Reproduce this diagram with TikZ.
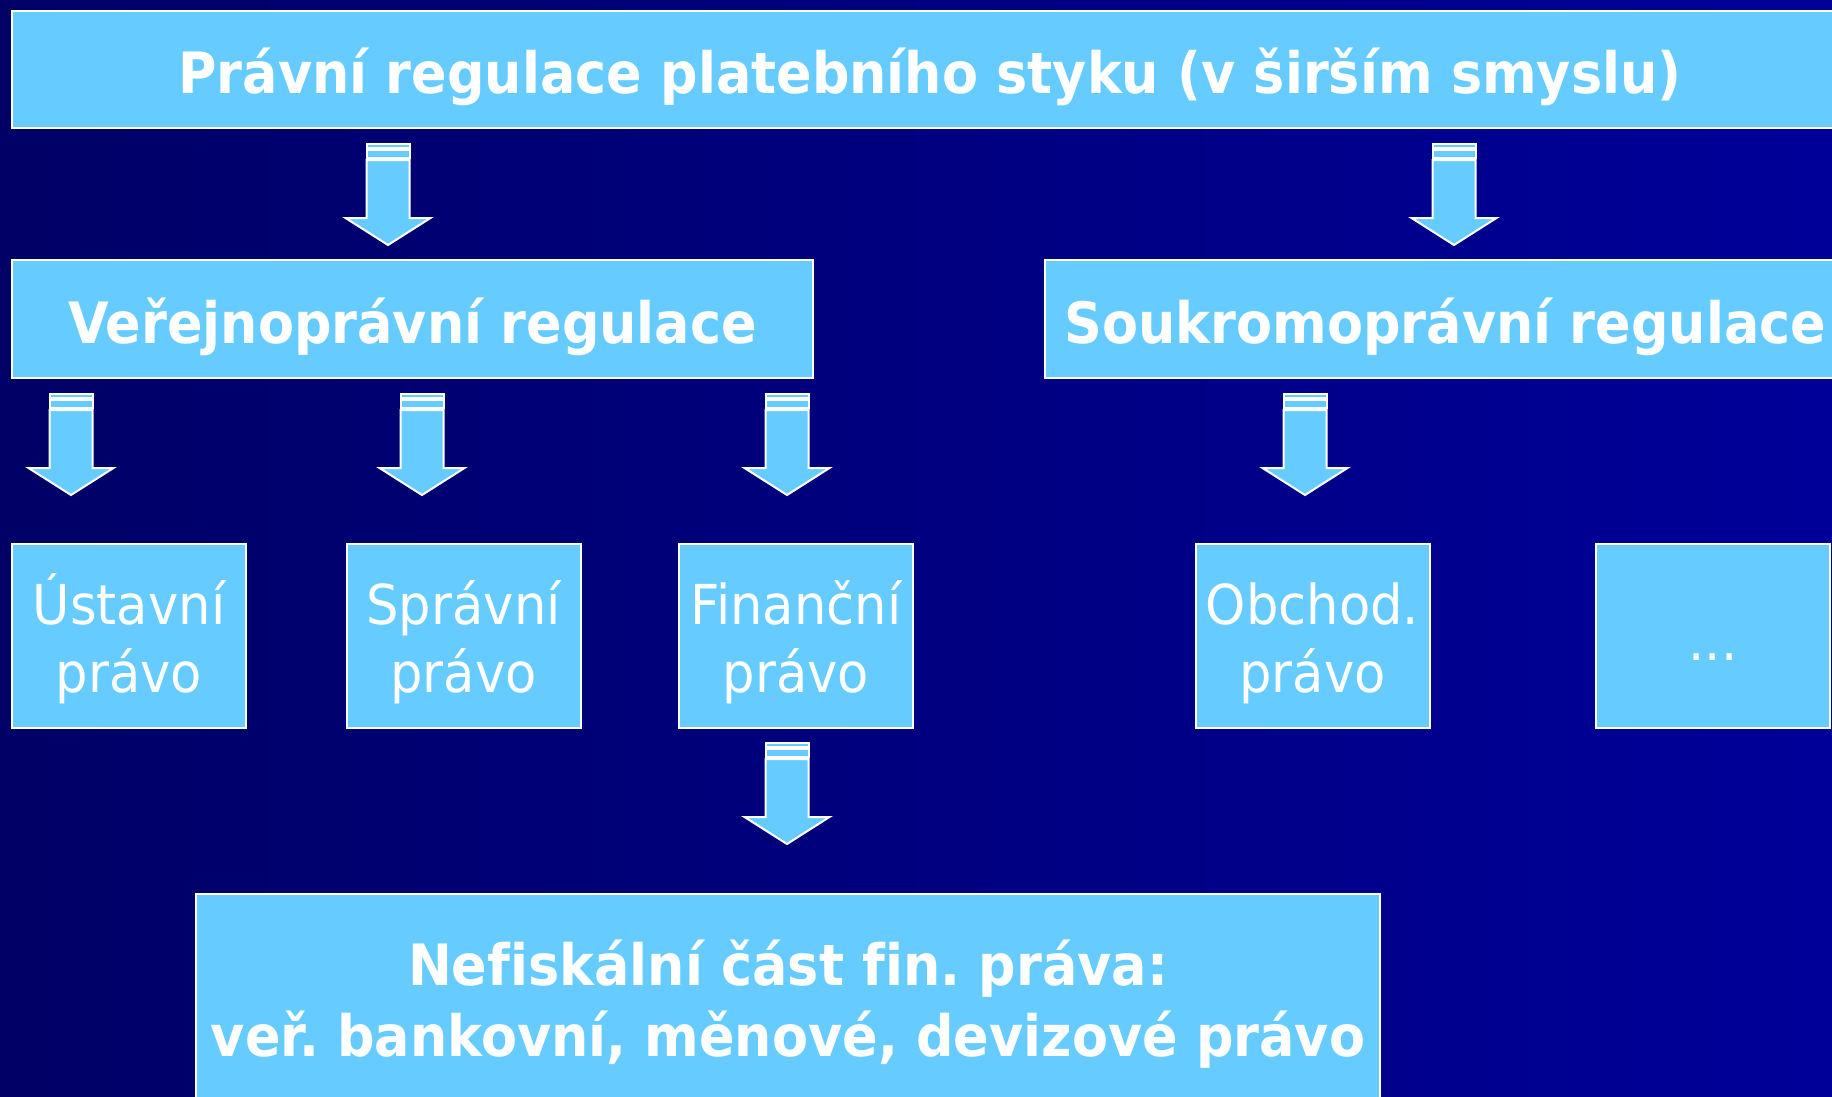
\documentclass[tikz,border=0pt]{standalone}
\usepackage{fontspec}
\setmainfont{DejaVu Sans}
\newfontfamily\hdfont{DejaVu Sans}[FakeStretch=0.92, Ligatures=CommonOff]
\newfontfamily\regfont{DejaVu Sans}[FakeStretch=0.93, Ligatures=CommonOff]
\frenchspacing
\definecolor{bgleft}{RGB}{0,0,102}
\definecolor{bgright}{RGB}{0,0,153}
\definecolor{boxfill}{RGB}{102,204,255}
\newcommand{\topstrut}[1]{\rule{0pt}{#1pt}}
\newcommand{\botstrut}[1]{\rule[-#1pt]{0pt}{#1pt}}
\tikzset{
  x=1pt, y=-1pt,
  box/.style={draw=white, line width=2pt, fill=boxfill, inner sep=0pt, text=white, align=center},
  bighead/.style={box, font=\hdfont\bfseries\fontsize{57}{71}\selectfont},
  oneline/.style={text height=62pt, text depth=14pt},
  small/.style={box, font=\regfont\fontsize{55}{68}\selectfont},
  arrowpart/.style={draw=white, line width=2pt, fill=boxfill, line join=miter},
  pics/downarrow/.style={code={
    \path[arrowpart] (-21.5,0) rectangle (21.5,4);
    \path[arrowpart] (-21.5,6) rectangle (21.5,14);
    \path[arrowpart] (-21.5,16) -- (21.5,16) -- (21.5,74) -- (42.5,74) -- (0,101) -- (-42.5,74) -- (-21.5,74) -- cycle;
  }}
}
\begin{document}
\begin{tikzpicture}
\shade[left color=bgleft, right color=bgright] (0,0) rectangle (1832,1096);
\useasboundingbox (0,0) rectangle (1832,1096);

% top
\node[bighead, oneline, minimum width=1836, minimum height=117] (top) at (930,69.5) {Právní regulace platebního styku (v širším smyslu)};

% level 1
\node[bighead, oneline, minimum width=801, minimum height=118] (verej) at (412.5,319) {Veřejnoprávní regulace};
\node[bighead, oneline, minimum width=801, minimum height=118] (soukr) at (1445.5,319) {Soukromoprávní regulace};

% level 2
\node[small, minimum width=234, minimum height=184] (ustav) at (129,636) {\topstrut{58}Ústavní\\právo\botstrut{14}};
\node[small, minimum width=234, minimum height=184] (sprav) at (463.5,636) {\topstrut{58}Správní\\právo\botstrut{14}};
\node[small, minimum width=234, minimum height=184] (finan) at (796,636) {\topstrut{58}Finanční\\právo\botstrut{14}};
\node[small, minimum width=234, minimum height=184] (obch) at (1312.5,636) {\topstrut{58}Obchod.\\právo\botstrut{14}};
\node[small, oneline, minimum width=234, minimum height=184] (dots) at (1713,636) {...};

% level 3
\node[bighead, minimum width=1184, minimum height=207] (nefis) at (788,997.5) {\topstrut{62}Nefiskální část fin. práva:\\veř. bankovní, měnové, devizové právo\botstrut{16}};

% arrows
\pic at (388,144) {downarrow};
\pic at (1454,144) {downarrow};
\pic at (71,394) {downarrow};
\pic at (422,394) {downarrow};
\pic at (787,394) {downarrow};
\pic at (1305,394) {downarrow};
\pic at (787,743) {downarrow};
\end{tikzpicture}
\end{document}
